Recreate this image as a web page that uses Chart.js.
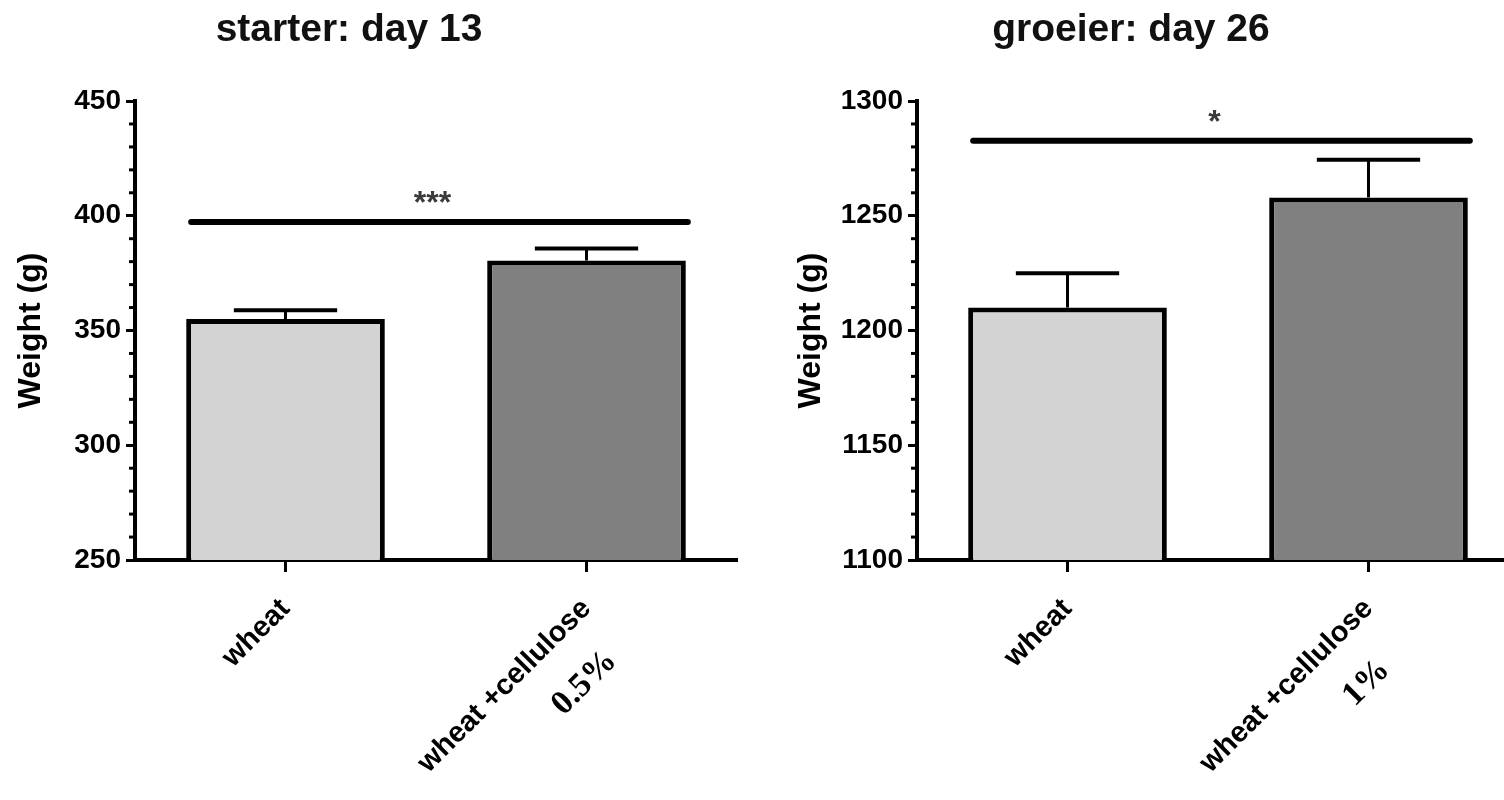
<!DOCTYPE html>
<html>
<head>
<meta charset="utf-8">
<script src="https://cdn.jsdelivr.net/npm/chart.js@4.4.1/dist/chart.umd.min.js"></script>
<style>
  html, body { margin: 0; padding: 0; background: #fff; overflow: hidden; width: 1504px; height: 800px; }
  .panel { position: absolute; top: 0; width: 760px; height: 800px; }
  #left { left: 0; }
  #right { left: 780px; }
</style>
</head>
<body>
<div class="panel" id="left"><canvas id="starter" width="760" height="800"></canvas></div>
<div class="panel" id="right"><canvas id="groeier" width="760" height="800"></canvas></div>
<script>
// data
const categories = ['wheat', 'wheat +cellulose'];
const barColors = ['#d3d3d3', '#808080'];

const starterTitle = 'starter: day 13';
const starterMeans = [355, 380.5];
const starterSem = [3.8, 5.2];
const starterTicks = [250, 300, 350, 400, 450];
const starterSigY = 397.3;
const starterStars = '***';
const starterDose = '0.5%';

const groeierTitle = 'groeier: day 26';
const groeierMeans = [1210, 1258];
const groeierSem = [14.9, 16.4];
const groeierTicks = [1100, 1150, 1200, 1250, 1300];
const groeierSigY = 1282.7;
const groeierStars = '*';
const groeierDose = '1%';

const minorStep = 10;
const sans = "'Liberation Sans', Arial, sans-serif";

// error bars, minor ticks, significance bar, dose text, panel title
const extras = {
  id: 'extras',
  afterDraw(chart, args, o) {
    const ctx = chart.ctx;
    const xs = chart.scales.x, ys = chart.scales.y;
    const area = chart.chartArea;
    const bars = chart.getDatasetMeta(0).data;
    ctx.save();
    ctx.strokeStyle = '#000';

    // SEM (upper only)
    bars.forEach((bar, i) => {
      const top = ys.getPixelForValue(o.means[i] + o.sem[i]);
      const half = bar.width * 0.26;
      ctx.lineWidth = 3;
      ctx.beginPath(); ctx.moveTo(bar.x, bar.y); ctx.lineTo(bar.x, top); ctx.stroke();
      ctx.lineWidth = 4;
      ctx.beginPath(); ctx.moveTo(bar.x - half, top); ctx.lineTo(bar.x + half, top); ctx.stroke();
    });

    // minor y ticks
    ctx.lineWidth = 3;
    const major = o.ticks[1] - o.ticks[0];
    for (let v = ys.min; v <= ys.max; v += minorStep) {
      if ((v - ys.min) % major === 0) continue;
      const py = ys.getPixelForValue(v);
      ctx.beginPath(); ctx.moveTo(area.left - 6, py); ctx.lineTo(area.left, py); ctx.stroke();
    }

    // significance bar
    const b0 = bars[0], b1 = bars[1];
    const x0 = b0.x - b0.width / 2 + 5, x1 = b1.x + b1.width / 2 + 2;
    const sy = ys.getPixelForValue(o.sigY);
    ctx.lineWidth = 6;
    ctx.lineCap = 'round';
    ctx.beginPath(); ctx.moveTo(x0, sy); ctx.lineTo(x1, sy); ctx.stroke();
    ctx.fillStyle = '#3a3a3a';
    ctx.font = 'bold 32px ' + sans;
    ctx.textAlign = 'center';
    ctx.textBaseline = 'alphabetic';
    ctx.fillText(o.stars, (x0 + x1) / 2 - 7, sy - 9);

    // dose under second label
    ctx.fillStyle = '#000';
    ctx.save();
    ctx.translate(xs.getPixelForValue(1) - 2, area.bottom + 123);
    ctx.rotate(-Math.PI / 4);
    ctx.font = "bold 34px 'Liberation Serif', 'Times New Roman', serif";
    ctx.textBaseline = 'middle';
    ctx.fillText(o.dose, 0, 0);
    ctx.restore();

    // panel title
    ctx.font = 'bold 39px ' + sans;
    ctx.textAlign = 'center';
    ctx.textBaseline = 'alphabetic';
    ctx.fillStyle = '#111';
    ctx.fillText(o.title, area.left + 214, 41);
    ctx.restore();
  }
};

function makePanel(id, title, means, sem, ticks, sigY, stars, dose, axisW, padRight) {
  new Chart(document.getElementById(id), {
    type: 'bar',
    data: {
      labels: categories,
      datasets: [{
        data: means,
        backgroundColor: barColors,
        borderColor: '#000',
        borderWidth: 5,
        borderSkipped: false,
        barPercentage: 1,
        categoryPercentage: 0.66
      }]
    },
    options: {
      responsive: false,
      animation: false,
      layout: { padding: { top: 101, right: padRight, left: 0, bottom: 0 } },
      plugins: {
        legend: { display: false },
        tooltip: { enabled: false },
        extras: { title, means, sem, ticks, sigY, stars, dose }
      },
      scales: {
        x: {
          afterFit(s) { s.height = 240; },
          grid: { offset: false, drawOnChartArea: false, tickLength: 12, tickWidth: 3, tickColor: '#000' },
          border: { display: true, color: '#000', width: 4 },
          ticks: {
            color: '#000', minRotation: 45, maxRotation: 45, padding: 20,
            font: { family: sans, size: 29, weight: 'bold' }
          }
        },
        y: {
          min: ticks[0],
          max: ticks[ticks.length - 1],
          afterFit(s) { s.width = axisW; },
          afterBuildTicks(s) { s.ticks = ticks.map(v => ({ value: v })); },
          grid: { drawOnChartArea: false, tickLength: 9, tickWidth: 3, tickColor: '#000' },
          border: { display: true, color: '#000', width: 4 },
          ticks: {
            color: '#000', padding: 5,
            callback: v => String(v),
            font: { family: sans, size: 28, weight: 'bold' }
          },
          title: {
            display: true, text: 'Weight (g)', color: '#000',
            padding: { top: 12, bottom: 0 },
            font: { family: sans, size: 32, weight: 'bold' }
          }
        }
      }
    },
    plugins: [extras]
  });
}

makePanel('starter', starterTitle, starterMeans, starterSem, starterTicks, starterSigY, starterStars, starterDose, 135, 23);
makePanel('groeier', groeierTitle, groeierMeans, groeierSem, groeierTicks, groeierSigY, groeierStars, groeierDose, 137, 21);
</script>
</body>
</html>
